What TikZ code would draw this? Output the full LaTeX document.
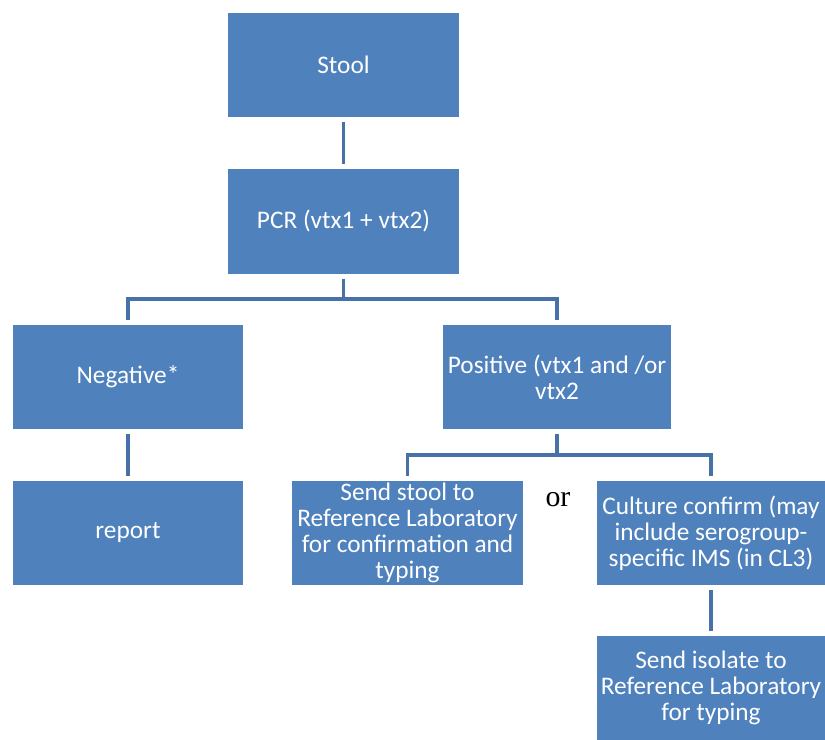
\documentclass[tikz,border=0pt]{standalone}
\usepackage{fontspec}
\setmainfont{Carlito}
\newfontfamily\orfont{Liberation Serif}
\usepackage{tikz}
\usetikzlibrary{positioning}
\definecolor{boxblue}{HTML}{4F81BD}
\definecolor{linkblue}{HTML}{4772A8}

\tikzset{
  box/.style={fill=boxblue,text=white,minimum width=4.62cm,minimum height=2.1cm,
    align=center,inner sep=1pt,font=\fontsize{14.4}{14.8}\selectfont},
  link/.style={linkblue,line width=2.2pt,shorten <=2.5pt,shorten >=2.5pt}
}

\begin{document}
\begin{tikzpicture}[x=0.02cm,y=0.02cm]
  \useasboundingbox (0,0) rectangle (825,-740);
  \node[box] (stool) at (343.5,-65) {Stool};
  \node[box] (pcr) at (343.5,-221.5) {PCR (vtx1 + vtx2)};
  \node[box] (neg) at (128,-377) {Negative*};
  \node[box,minimum width=4.58cm] (pos) at (557,-377) {Positive (vtx1 and /or\\vtx2};
  \node[box] (report) at (128,-533) {report};
  \node[box] (sendstool) at (407.5,-533) {Send stool to\\Reference Laboratory\\for confirmation and\\typing};
  \node[box,minimum width=4.56cm] (culture) at (711,-533) {Culture confirm (may\\include serogroup-\\specific IMS (in CL3)};
  \node[box,minimum width=4.56cm] (isolate) at (711,-688) {Send isolate to\\Reference Laboratory\\for typing};
  \node[font=\orfont\fontsize{17}{20}\selectfont] (or) at (558,-500) {or};
  % tree links
  \draw[link] (stool) -- (pcr);
  \draw[link] (pcr.south) -- ++(0,-25) -| (neg.north);
  \draw[link] (pcr.south) -- ++(0,-25) -| (pos.north);
  \draw[link] (neg) -- (report);
  \draw[link] (pos.south) -- ++(0,-25) -| (sendstool.north);
  \draw[link] (pos.south) -- ++(0,-25) -| (culture.north);
  \draw[link] (culture) -- (isolate);
\end{tikzpicture}
\end{document}
